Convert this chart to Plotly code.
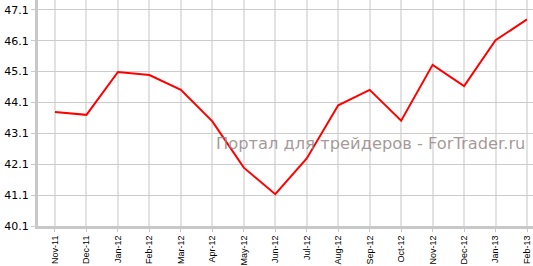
import plotly.graph_objects as go

months = ["Nov-11", "Dec-11", "Jan-12", "Feb-12", "Mar-12", "Apr-12", "May-12", "Jun-12",
          "Jul-12", "Aug-12", "Sep-12", "Oct-12", "Nov-12", "Dec-12", "Jan-13", "Feb-13"]
values = [43.79, 43.70, 45.09, 44.99, 44.51, 43.49, 41.99, 41.13,
          42.29, 44.01, 44.51, 43.51, 45.32, 44.63, 46.12, 46.79]
y_ticks = [40.1, 41.1, 42.1, 43.1, 44.1, 45.1, 46.1, 47.1]
watermark = "Портал для трейдеров - ForTrader.ru"

fig = go.Figure()
fig.add_trace(go.Scatter(x=months, y=values, mode="lines",
                         line=dict(color="#ff0000", width=2)))

fig.update_layout(
    width=533, height=266,
    margin=dict(l=38, r=0, t=0, b=39.5),
    paper_bgcolor="white", plot_bgcolor="white",
    showlegend=False,
    xaxis=dict(type="category", range=[-0.54, 15.19], automargin=False,
               tickangle=-90, tickfont=dict(family="Liberation Sans", size=9, color="#000"),
               showgrid=True, gridcolor="#e2e2e2", gridwidth=2,
               showline=True, linecolor="#c8c8c8", linewidth=3,
               ticks="outside", ticklen=3, tickcolor="#c8c8c8"),
    yaxis=dict(range=[40.1, 47.42], tickvals=y_ticks, ticktext=[f"{v:.1f}" for v in y_ticks],
               automargin=False,
               tickfont=dict(family="DejaVu Sans", size=11, color="#000"),
               showgrid=True, gridcolor="#cccccc", gridwidth=1,
               showline=True, linecolor="#c8c8c8", linewidth=3,
               ticks="outside", ticklen=4, tickcolor="#c8c8c8", zeroline=False),
    annotations=[dict(text=watermark, xref="paper", yref="paper", x=0.987, y=0.365,
                      xanchor="right", yanchor="middle", showarrow=False,
                      font=dict(family="DejaVu Sans", size=16.3, color="rgba(150,135,135,0.85)"))],
)

fig.write_html("out.html")
